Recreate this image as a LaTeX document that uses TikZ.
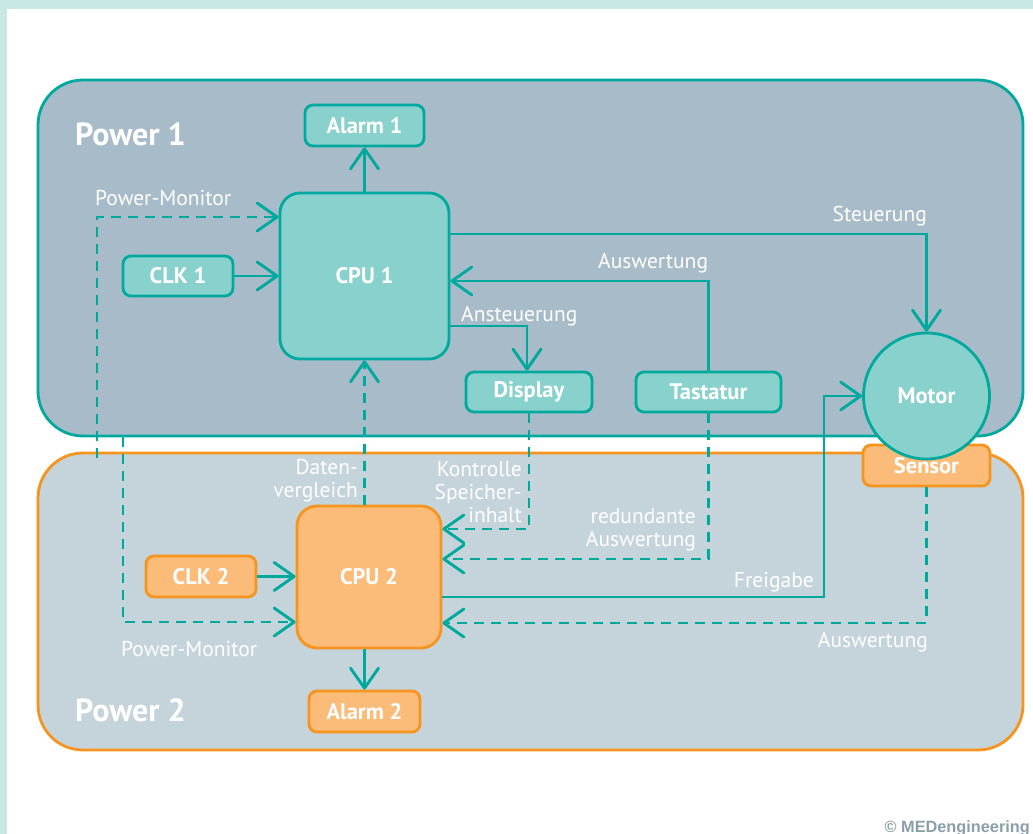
\documentclass[tikz,border=0pt]{standalone}
\usepackage{fontspec}
\setmainfont{PT Sans}
\newfontfamily\creditfont{Liberation Sans}
\usetikzlibrary{arrows.meta}

\definecolor{tealline}{RGB}{0,169,157}
\definecolor{tealfill}{RGB}{136,209,204}
\definecolor{orangeline}{RGB}{247,148,29}
\definecolor{orangefill}{RGB}{251,187,121}
\definecolor{powerone}{RGB}{167,188,200}
\definecolor{powertwo}{RGB}{197,211,219}
\definecolor{frame}{RGB}{200,232,230}
\definecolor{credit}{RGB}{140,158,170}

\tikzset{
  region/.style={line width=2.8pt, rounded corners=45pt},
  tbox/.style={draw=tealline, fill=tealfill, line width=2.8pt, text=white,
    font=\fontsize{22.5}{26}\selectfont\bfseries, inner sep=0pt, rounded corners=8pt},
  obox/.style={tbox, draw=orangeline, fill=orangefill},
  conn/.style={draw=tealline, line width=2.9pt,
    -{Straight Barb[length=20pt,width=28pt,line join=round,line cap=round]}},
  dconn/.style={conn, dash pattern=on 10pt off 7pt},
  lbl/.style={text=white, font=\fontsize{21.5}{23}\selectfont, inner sep=0pt},
  title/.style={text=white, font=\fontsize{32}{36}\selectfont\bfseries, inner sep=0pt, anchor=base west},
}

\begin{document}
\begin{tikzpicture}[x=1pt, y=-1pt]
  % page: light frame on the left and top, white sheet
  \useasboundingbox (0,0) rectangle (1033,834);
  \fill[frame] (0,0) rectangle (1033,834);
  \fill[white] (7,9) rectangle (1040,840);

  % supply domains
  \draw[region, draw=tealline, fill=powerone] (38,80) rectangle (1023,436);
  \draw[region, draw=orangeline, fill=powertwo] (38,453) rectangle (1023,750);
  \node[title] (p1) at (75,146) {Power 1};
  \node[title] (p2) at (75,721) {Power 2};

  % components of domain 1
  \node[tbox, minimum width=119pt, minimum height=41pt] (alarm1) at (364.5,125.5) {Alarm 1};
  \node[tbox, minimum width=169pt, minimum height=166pt, rounded corners=20pt] (cpu1) at (364.5,276) {CPU 1};
  \node[tbox, minimum width=110pt, minimum height=40pt] (clk1) at (178,276) {CLK 1};
  \node[tbox, minimum width=126pt, minimum height=40pt] (display) at (529,392) {Display};
  \node[tbox, minimum width=145pt, minimum height=40pt] (tast) at (708.5,392) {Tastatur};

  % components of domain 2
  \node[obox, minimum width=127pt, minimum height=41pt] (sensor) at (926.5,465.5) {\raisebox{-3pt}{Sensor}};
  \node[tbox, circle, minimum size=126pt] (motor) at (926.5,396) {\raisebox{-3pt}{Motor}};
  \node[obox, minimum width=144pt, minimum height=142pt, rounded corners=20pt] (cpu2) at (369,577) {CPU 2};
  \node[obox, minimum width=110pt, minimum height=41pt] (clk2) at (201,576.5) {CLK 2};
  \node[obox, minimum width=111pt, minimum height=41pt] (alarm2) at (364.5,711.5) {Alarm 2};

  % free ends of the power monitor lines
  \coordinate (pm1) at (97,458);
  \coordinate (pm2) at (123,437);
  \coordinate (fg) at (824,396);

  % connections
  \draw[conn] (cpu1.north) -- (alarm1.south);
  \draw[conn] (clk1.east) -- (cpu1.west);
  \draw[dconn] (pm1) |- ([yshift=59pt]cpu1.west);
  \draw[conn] ([yshift=42pt]cpu1.east) -| (motor.north);
  \draw[conn] (tast.north) |- ([yshift=-5pt]cpu1.east);
  \draw[conn] ([yshift=-50pt]cpu1.east) -| ([xshift=-2pt]display.north);
  \draw[dconn] (cpu1.south |- cpu2.north) -- (cpu1.south);
  \draw[conn] (alarm2.north |- cpu2.south) -- (alarm2.north);
  \draw[conn] (clk2.east) -- (cpu2.west |- clk2.east);
  \draw[dconn] (pm2) |- ([yshift=-45pt]cpu2.west);
  \draw[dconn] (display.south) |- ([yshift=48pt]cpu2.east);
  \draw[dconn] (tast.south) |- ([yshift=18pt]cpu2.east);
  \draw[conn] ([yshift=-20pt]cpu2.east) -| (fg) -- (motor.west);
  \draw[dconn] (sensor.south) |- ([yshift=-46pt]cpu2.east);

  % connection labels
  \node[lbl, anchor=base west] (lpm1) at (95,206) {Power-Monitor};
  \node[lbl, anchor=base west] (lpm2) at (121,656) {Power-Monitor};
  \node[lbl, anchor=base east] (lst) at (927,222) {Steuerung};
  \node[lbl, anchor=base west] (law1) at (598,269) {Auswertung};
  \node[lbl, anchor=base west] (lan) at (461,321) {Ansteuerung};
  \node[lbl, anchor=base east, align=right] (ldv) at (358,497) {Daten-\\vergleich};
  \node[lbl, anchor=base east, align=right] (lks) at (522,522) {Kontrolle\\Speicher-\\inhalt};
  \node[lbl, anchor=base east, align=right] (lra) at (696,546) {redundante\\Auswertung};
  \node[lbl, anchor=base east] (lfg) at (814,587) {Freigabe};
  \node[lbl, anchor=base east] (law2) at (928,647) {Auswertung};

  % credit line
  \node[anchor=base east, inner sep=0pt, text=credit, font=\creditfont\fontsize{16.3}{18}\selectfont\bfseries] (cr) at (1030,832) {\textcopyright{} MEDengineering};
\end{tikzpicture}
\end{document}
